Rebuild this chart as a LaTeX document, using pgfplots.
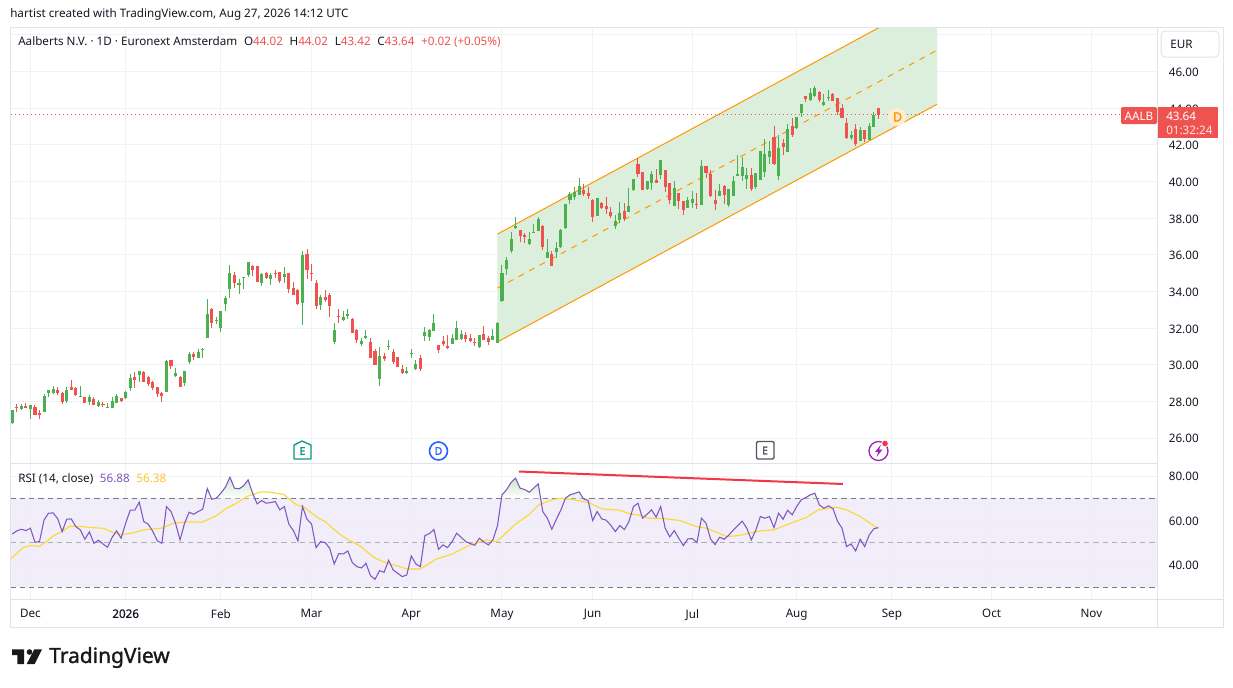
\documentclass[border=0pt]{standalone}
\usepackage{pgfplots}
\usepackage{pgfplotstable}
\usepackage{fontspec}
\setmainfont{Noto Sans}
\newfontfamily\nsbold[FakeBold=1.3]{Noto Sans}
\newfontfamily\nsmed[FakeBold=0.5]{Noto Sans}
\pgfplotsset{compat=1.18}
\definecolor{up}{HTML}{4CAF50}
\definecolor{dn}{HTML}{EF5350}
\definecolor{gridc}{HTML}{F1F2F4}
\definecolor{framec}{HTML}{E0E3EB}
\definecolor{chan}{HTML}{DCEFDC}
\definecolor{orng}{HTML}{FF9800}
\definecolor{rsic}{HTML}{7E57C2}
\definecolor{mac}{HTML}{FDD835}
\definecolor{band}{HTML}{F0ECF8}
\definecolor{txt}{HTML}{131722}
\definecolor{lev}{HTML}{787B86}
\definecolor{divl}{HTML}{F23645}
\definecolor{ecol}{HTML}{089981}
\definecolor{dcol}{HTML}{2962FF}
\definecolor{pcol}{HTML}{9C27B0}
\pgfplotstableread{
i top bot high low
0 27.53 26.80 27.53 26.77
2 27.75 27.58 27.86 27.53
4 27.80 27.58 27.80 27.04
7 28.30 27.42 28.40 27.42
8 28.62 28.46 28.62 28.24
9 28.68 28.46 28.84 28.40
12 28.62 28.02 28.79 27.91
15 28.30 28.24 28.84 28.24
17 28.24 27.97 28.35 27.80
19 27.97 27.75 28.08 27.69
21 27.69 27.64 27.91 27.64
22 28.02 27.64 28.24 27.64
23 28.30 27.91 28.40 27.91
25 28.51 28.19 28.57 28.13
26 29.28 28.73 29.50 28.57
28 29.66 29.44 29.66 29.06
34 30.20 28.51 30.26 28.51
36 29.55 29.39 29.82 29.33
38 29.66 29.00 29.66 28.84
39 30.59 30.15 30.69 30.04
41 30.69 30.37 30.86 30.37
42 30.86 30.80 30.91 30.37
43 32.77 31.46 33.59 31.46
45 32.44 32.39 32.60 32.22
46 32.93 32.00 32.93 31.79
47 33.64 33.31 33.75 32.93
48 35.00 34.13 35.44 33.64
50 34.46 34.35 34.68 33.86
51 34.79 34.73 34.79 34.13
52 35.60 34.90 35.60 34.79
55 34.95 34.46 35.00 34.30
57 34.90 34.68 35.00 34.35
60 34.95 34.79 35.33 34.46
64 35.99 33.37 36.20 32.17
68 33.70 33.26 33.80 32.99
71 31.90 31.24 32.28 31.13
73 32.60 32.44 32.93 32.39
74 32.77 32.66 33.04 32.49
77 31.30 31.13 31.46 31.02
78 31.57 31.46 31.90 31.40
81 30.48 29.22 30.97 28.84
83 31.02 30.97 31.35 30.80
87 29.66 29.55 29.88 29.50
88 30.64 30.59 30.86 30.37
89 30.04 29.77 30.26 29.71
91 31.79 31.57 32.06 31.30
92 31.90 31.51 31.95 31.30
93 32.28 31.84 32.77 31.84
97 31.46 31.13 31.68 31.13
98 32.00 31.35 32.39 31.35
99 31.68 31.40 31.90 31.35
103 31.62 30.97 31.62 30.91
106 31.57 31.35 31.95 31.35
107 32.28 31.19 32.33 31.19
108 35.00 33.47 35.44 33.42
109 35.71 35.22 35.87 34.89
110 36.86 36.20 37.24 36.09
111 37.56 37.46 38.06 37.40
114 36.86 36.58 37.24 36.53
115 37.24 37.18 37.67 37.18
116 37.95 37.29 38.06 37.29
118 36.15 35.82 36.86 35.82
120 36.36 36.15 36.69 35.82
121 37.35 36.42 37.40 36.36
122 38.76 37.46 38.76 37.40
123 39.31 38.98 39.42 38.76
124 39.42 39.15 39.69 38.98
125 39.75 39.26 40.18 39.26
129 39.09 38.11 39.09 38.11
133 37.84 37.56 38.16 37.40
134 38.27 37.89 38.87 37.73
136 38.66 38.33 39.64 38.33
137 40.13 39.53 40.13 39.47
140 40.02 39.58 40.02 39.53
141 40.40 39.91 40.56 39.53
143 41.16 40.35 41.16 40.13
146 39.64 38.66 40.02 38.66
149 38.98 38.55 39.15 38.55
150 39.04 38.83 39.48 38.55
152 40.84 38.72 41.17 38.72
156 39.48 39.21 39.86 39.21
158 39.59 38.72 39.59 38.61
159 40.03 39.21 40.30 39.21
160 40.41 40.30 41.44 40.30
161 40.79 40.30 41.33 40.03
162 40.35 40.13 40.73 39.59
164 40.46 39.70 40.46 39.59
165 41.66 40.08 41.66 40.08
166 41.50 40.52 42.32 40.24
167 41.66 41.33 42.21 40.95
169 41.83 40.30 42.53 40.08
171 42.86 41.61 43.13 41.61
173 43.52 42.92 43.52 42.86
174 44.23 43.73 44.23 43.52
176 44.83 44.44 45.10 44.39
177 45.10 44.66 45.21 44.61
179 44.33 44.17 44.77 44.12
180 44.61 44.55 44.99 44.39
185 42.53 42.37 42.75 42.26
187 42.81 42.21 42.97 42.21
189 43.03 42.26 43.19 42.26
190 43.63 42.97 43.79 42.97
}\upcandles
\pgfplotstableread{
i top bot high low
1 27.69 27.64 27.86 27.44
3 27.75 27.64 27.93 27.64
5 27.69 27.26 27.80 27.26
6 27.37 27.26 27.53 27.04
10 28.62 28.46 28.79 28.35
11 28.46 27.97 28.51 27.86
13 28.79 28.62 29.17 28.62
14 28.73 28.35 28.79 28.30
16 28.24 27.91 28.24 27.91
18 28.13 27.80 28.24 27.80
20 27.86 27.80 27.97 27.69
24 28.19 28.02 28.19 27.97
27 29.33 29.17 29.60 28.73
29 29.60 29.06 29.66 29.06
30 29.33 28.95 29.39 28.84
31 29.06 28.73 29.11 28.62
32 28.79 28.40 28.79 28.24
33 28.46 28.30 28.51 27.97
35 30.26 29.93 30.26 29.77
37 29.33 28.79 29.39 28.79
40 30.59 30.42 30.69 30.26
44 33.04 32.28 33.09 32.00
49 34.90 34.46 35.06 34.19
53 35.39 35.17 35.44 34.84
54 35.39 34.51 35.39 34.51
56 35.00 34.73 35.06 34.68
58 35.00 34.95 35.17 34.73
59 35.06 34.57 35.06 34.46
61 35.00 34.13 35.00 33.91
62 34.19 33.80 34.51 33.80
63 34.08 33.31 34.13 33.26
65 36.04 35.17 36.31 34.68
66 35.00 34.95 35.50 34.57
67 34.46 33.20 34.62 33.04
69 33.70 33.53 34.08 33.42
70 33.80 33.20 33.91 32.60
72 32.66 32.60 33.04 32.28
75 32.49 31.73 32.55 31.73
76 31.90 31.35 31.95 31.19
79 31.24 30.37 31.46 30.37
80 30.75 29.99 30.86 29.99
82 30.48 30.31 30.64 30.20
84 30.69 30.15 30.86 30.04
85 30.42 29.88 30.42 29.88
86 29.77 29.55 29.99 29.50
90 30.37 29.77 30.53 29.66
94 31.08 30.80 31.08 30.64
95 31.30 31.13 31.57 31.02
96 31.02 30.91 31.62 30.86
100 31.62 31.40 31.79 31.24
101 31.46 31.30 31.68 31.24
102 31.24 31.19 31.46 31.02
104 31.68 31.35 32.11 31.35
105 31.46 31.24 31.57 31.08
112 37.35 37.02 37.35 36.69
113 37.07 36.96 37.18 36.64
117 37.56 36.42 37.62 36.26
119 36.04 35.38 36.20 35.38
126 39.53 39.31 39.86 39.20
127 39.36 39.20 39.69 39.04
128 38.98 38.06 39.04 37.78
130 38.82 38.55 38.87 38.49
131 38.66 38.49 39.15 38.22
132 38.33 38.11 38.60 38.00
135 38.38 37.95 38.82 37.84
138 40.95 40.40 41.27 40.24
139 40.51 39.53 40.51 39.53
142 40.07 39.91 40.67 39.91
144 40.62 39.69 40.62 39.42
145 39.91 38.98 39.91 38.76
147 39.36 38.93 39.36 38.49
148 38.93 38.44 38.93 38.16
151 38.77 38.72 39.37 38.50
153 40.84 40.46 40.84 40.19
154 40.41 39.21 40.63 39.15
155 38.99 38.77 39.53 38.44
157 39.75 39.26 39.81 38.77
163 40.35 39.59 40.73 39.48
168 42.43 40.95 43.03 40.90
170 42.10 41.88 42.32 41.44
172 43.03 42.53 43.46 42.43
175 44.66 44.50 44.66 44.33
178 44.88 44.44 44.93 44.33
181 44.77 44.39 44.83 44.39
182 44.55 43.79 44.55 43.63
183 44.01 43.46 44.23 43.46
184 43.19 42.37 43.46 42.32
186 42.86 42.04 43.13 41.93
188 42.81 42.32 42.81 42.15
191 44.02 43.64 44.02 43.42
}\dncandles
\pgfplotstableread{
i r
0 54.0
1 55.35
2 56.1
3 55.5
4 56.55
5 50.25
6 50.55
7 60.3
8 63.3
9 63.45
10 60.9
11 55.05
12 60.6
13 60.75
14 57.3
15 55.8
16 51.6
17 54.9
18 49.8
19 51.15
20 49.5
21 48
22 52.35
23 55.35
24 52.05
25 58.8
26 64.65
27 64.65
28 68.25
29 59.55
30 58.35
31 55.05
32 50.85
33 49.8
34 66.3
35 64.05
36 58.8
37 51.3
38 58.8
39 63.75
40 62.85
41 64.05
42 65.1
43 74.4
44 69.6
45 70.05
46 72.3
47 75
48 79.5
49 74.55
50 74.25
51 75.6
52 78.3
53 72.3
54 67.5
55 69
56 67.8
57 68.1
58 68.55
59 64.8
60 66.3
61 58.35
62 55.5
63 50.85
64 66.3
65 60.6
66 58.5
67 47.85
68 50.55
69 50.1
70 47.55
71 40.5
72 45.15
73 45
74 46.35
75 41.1
76 39.3
77 38.7
78 40.8
79 35.25
80 33.6
81 37.5
82 36.75
83 42.15
84 37.8
85 36.3
86 34.8
87 35.55
88 44.1
89 40.5
90 39.3
91 53.25
92 54.15
93 55.95
94 47.1
95 49.05
96 47.85
97 50.55
98 54.3
99 52.5
100 50.55
101 49.65
102 48.9
103 52.05
104 50.4
105 49.05
106 51.3
107 57.6
108 71.55
109 73.8
110 77.1
111 79.05
112 74.55
113 73.95
114 72.75
115 74.55
116 76.5
117 64.05
118 61.05
119 56.1
120 60.6
121 64.8
122 70.05
123 71.55
124 72.15
125 72.9
126 69.75
127 69
128 60
129 64.05
130 60.75
131 60.15
132 57.9
133 55.05
134 57.75
135 55.95
136 59.55
137 66.3
138 67.8
139 61.05
140 62.85
141 64.8
142 61.5
143 66.3
144 56.55
145 52.65
146 55.5
147 52.05
148 48.75
149 51.75
150 51.9
151 50.1
152 61.05
153 58.8
154 51.75
155 49.2
156 52.5
157 51.6
158 53.4
159 55.65
160 57.75
161 59.7
162 56.55
163 51.3
164 55.8
165 61.8
166 61.05
167 61.8
168 56.85
169 63.3
170 60.6
171 64.65
172 62.55
173 66.3
174 69.3
175 70.35
176 71.55
177 72.3
178 67.05
179 65.55
180 66.6
181 65.4
182 59.7
183 56.55
184 48.3
185 49.5
186 46.35
187 51.6
188 48.3
189 53.55
190 56.25
191 56.88
}\rsitable
\pgfplotstableread{
i m
-0.4 42.6
1 45.3
2.4 47.85
3.9 48.75
6 48.45
7.6 50.55
9 53.1
10.9 55.05
12.7 57.45
14.9 57.45
17.1 56.85
20.1 56.55
22.3 54.6
24.1 53.7
26.7 54.45
28.9 55.8
32.9 56.55
35.5 58.8
38.5 59.4
41.8 59.25
44.7 61.8
47.3 65.55
49.5 67.8
51.7 70.8
54.6 72.75
56.1 72.9
59.8 71.85
61.3 69.3
62.7 67.05
64.2 66.3
67.2 61.5
69 59.55
71.9 54.3
74.1 51.3
76.7 48.6
79.7 43.5
82.6 40.8
84.8 39.75
87 38.25
90 38.25
93.6 42.75
96.9 44.85
101 49.05
104.7 51.3
106.9 50.55
111 58.5
113.9 62.55
116.1 67.05
119.4 69.6
121.3 70.05
123.9 69.3
127.1 68.1
130 65.25
134 64.65
136.2 63
138.1 62.55
140.3 61.05
143.6 60.9
147.3 60
150.9 57.3
153.1 56.55
157.6 52.8
160.1 53.25
164.9 55.35
167.9 55.8
170.8 58.05
175.2 61.5
177.8 64.8
181.8 66
184 64.8
187 61.8
191 56.38
}\matable
\tikzset{lbl/.style={font=\fontsize{8.75pt}{11pt}\selectfont,inner sep=0pt,text=txt}}
\begin{document}
\begin{tikzpicture}[x=0.75pt,y=-0.75pt]
\path[use as bounding box,fill=white] (0,0) rectangle (1233,687);
\begin{axis}[at={(7.875pt,-347.625pt)},anchor=south west,scale only axis,
  width=860.25pt,height=327.375pt,
  xmin=-0.397,xmax=252.58,ymin=24.61,ymax=48.43,
  ytick={26,28,...,48},yticklabels={26.00,28.00,30.00,32.00,34.00,36.00,38.00,40.00,42.00,44.00,46.00,},
  yticklabel pos=right,
  /pgf/number format/assume math mode=true,
  xtick={4,25,46,66,88,108,128,150,173,194,216,238},xticklabels={},
  ymajorgrids,xmajorgrids,grid style={gridc,line width=0.75pt},
  major tick length=0pt,axis line style={framec,line width=0.75pt},
  tick label style={font=\fontsize{8.75pt}{11pt}\selectfont,text=txt},
  yticklabel style={anchor=west,xshift=5pt,yshift=-0.6pt},
  axis on top=false]
\addplot[fill=chan,draw=none,forget plot] coordinates {(107,31.24) (204,44.22) (204,50.12) (107,37.13)};
\addplot[orng,line width=0.75pt,forget plot] coordinates {(107,31.24) (204,44.22)};
\addplot[orng,line width=0.75pt,forget plot] coordinates {(107,37.13) (204,50.12)};
\addplot[orng,line width=0.75pt,dash pattern=on 4.5pt off 4.5pt,forget plot] coordinates {(107,34.18) (204,47.17)};
\addplot[dn,line width=0.75pt,dash pattern=on 0.75pt off 2.25pt,forget plot] coordinates {(-0.397,43.64) (252.58,43.64)};
\addplot[draw=none,forget plot,error bars/.cd,y dir=plus,y explicit,error mark=none,error bar style={draw=up,line width=0.75pt}] table[x=i,y=low,y error expr=\thisrow{high}-\thisrow{low}] {\upcandles};
\addplot[draw=none,forget plot,error bars/.cd,y dir=plus,y explicit,error mark=none,error bar style={draw=dn,line width=0.75pt}] table[x=i,y=low,y error expr=\thisrow{high}-\thisrow{low}] {\dncandles};
\addplot[draw=none,forget plot,error bars/.cd,y dir=plus,y explicit,error mark=none,error bar style={draw=up,line width=2.3pt}] table[x=i,y=bot,y error expr=\thisrow{top}-\thisrow{bot}] {\upcandles};
\addplot[draw=none,forget plot,error bars/.cd,y dir=plus,y explicit,error mark=none,error bar style={draw=dn,line width=2.3pt}] table[x=i,y=bot,y error expr=\thisrow{top}-\thisrow{bot}] {\dncandles};
\end{axis}
\begin{axis}[at={(7.875pt,-449.625pt)},anchor=south west,scale only axis,
  width=860.25pt,height=102pt,
  xmin=-0.397,xmax=252.58,ymin=24.52,ymax=85.64,
  ytick={40,60,80},yticklabels={40.00,60.00,80.00},
  yticklabel pos=right,
  xtick={4,25,46,66,88,108,128,150,173,194,216,238},
  xticklabels={Dec,{\nsmed 2026},Feb,Mar,Apr,May,Jun,Jul,Aug,Sep,Oct,Nov},
  ymajorgrids,xmajorgrids,grid style={gridc,line width=0.75pt},
  major tick length=0pt,axis line style={framec,line width=0.75pt},
  tick label style={font=\fontsize{8.75pt}{11pt}\selectfont,text=txt},
  yticklabel style={anchor=west,xshift=5pt,yshift=-0.3pt},
  xticklabel style={yshift=-3.9pt},
  axis on top=false]
\addplot[fill=band,fill opacity=0.85,draw=none,forget plot] coordinates {(-0.397,30) (252.58,30) (252.58,70) (-0.397,70)};
\addplot[lev,line width=0.75pt,dash pattern=on 4pt off 3pt,forget plot] coordinates {(-0.397,70) (252.58,70)};
\addplot[lev!60,line width=0.75pt,dash pattern=on 4pt off 3pt,forget plot] coordinates {(-0.397,50) (252.58,50)};
\addplot[lev,line width=0.75pt,dash pattern=on 4pt off 3pt,forget plot] coordinates {(-0.397,30) (252.58,30)};
\addplot[draw=none,top color=up!30,bottom color=white,forget plot] coordinates {(42.5,70) (43,74.4) (43.9,70) (45,70.05) (46,72.3) (47,75) (48,79.5) (49,74.55) (50,74.25) (51,75.6) (52,78.3) (53,72.3) (53.5,70)};
\addplot[draw=none,top color=up!30,bottom color=white,forget plot] coordinates {(107.9,70) (108,71.55) (109,73.8) (110,77.1) (111,79.05) (112,74.55) (113,73.95) (114,72.75) (115,74.55) (116,76.5) (116.5,70)};
\addplot[draw=none,fill=up!12,forget plot] coordinates {(121.9,70) (123,71.55) (124,72.15) (125,72.9) (125.9,70)};
\addplot[draw=none,fill=up!12,forget plot] coordinates {(174.8,70) (175,70.35) (176,71.55) (177,72.3) (177.5,70)};
\addplot[mac,line width=0.85pt,forget plot] table[x=i,y=m] {\matable};
\addplot[rsic,line width=0.8pt,forget plot] table[x=i,y=r] {\rsitable};
\addplot[divl,line width=1.5pt,forget plot] coordinates {(111.75,82.04) (183.2,76.43)};
\end{axis}
% frame
\draw[framec,line width=0.75pt] (10.5,27.5) rectangle (1223.5,627.5);
\draw[framec,line width=0.75pt] (1157.5,27.5) -- (1157.5,627.5);
\draw[framec,line width=0.75pt] (10.5,599.5) -- (1223.5,599.5);
% header texts
\node[lbl,anchor=west] at (10,14) {hartist created with TradingView.com, Aug 27, 2026 14:12 UTC};
\node[lbl,anchor=west] at (18,42) {Aalberts N.V. · 1D · Euronext Amsterdam\hspace{5pt}O\textcolor{dn}{44.02}\hspace{5pt}H\textcolor{dn}{44.02}\hspace{5pt}L\textcolor{dn}{43.42}\hspace{5pt}C\textcolor{dn}{43.64}\hspace{5pt}\textcolor{dn}{+0.02 (+0.05\%)}};
\node[lbl,anchor=west] at (18,479) {RSI (14, close)\hspace{5pt}\textcolor{rsic}{56.88}\hspace{5pt}\textcolor{mac!80!orange}{56.38}};
% EUR button
\draw[framec,fill=white,line width=0.75pt,rounded corners=3pt] (1161,31) rectangle (1219,57);
\node[lbl,anchor=west] at (1170,44) {EUR};
% last price labels
\fill[dn,rounded corners=1pt] (1121,107) rectangle (1157,124);
\node[lbl,anchor=center,text=white] at (1139,116) {AALB};
\fill[dn] (1158,107) rectangle (1218,137.5);
\node[lbl,anchor=west,text=white] at (1166,116) {43.64};
\node[lbl,anchor=west,text=white,opacity=0.85] at (1166,130) {01:32:24};
% dividend bubble
\fill[orng!18] (897,117) circle (9);
\node[font=\fontsize{9.5pt}{11pt}\selectfont,text=orng,inner sep=0pt] at (897.5,117) {{\nsbold D}};
% event icons
\draw[ecol,line width=1pt,fill=white,line join=round] (294,445) -- (302,441) -- (311,445) -- (311,459) -- (294,459) -- cycle;
\node[font=\fontsize{8pt}{10pt}\selectfont,text=ecol,inner sep=0pt] at (302.5,451) {{\nsbold E}};
\draw[dcol,line width=1.2pt,fill=white] (438.5,451) circle (9);
\node[font=\fontsize{8pt}{10pt}\selectfont,text=dcol,inner sep=0pt] at (438.5,451) {{\nsbold D}};
\draw[lev!70!black,line width=1pt,fill=white,rounded corners=1pt] (756.5,441.5) rectangle (774,459);
\node[font=\fontsize{8pt}{10pt}\selectfont,text=lev!70!black,inner sep=0pt] at (765,450.5) {{\nsbold E}};
\draw[pcol,line width=1pt,fill=white] (878.5,451) circle (9.5);
\fill[pcol] (881,444.5) -- (875,452) -- (878.3,452) -- (876.5,457) -- (882.5,449.5) -- (879.2,449.5) -- cycle;
\fill[white] (885,443.5) circle (3.8);
\fill[divl] (885,443.5) circle (2.8);
% logo
\fill[black!90] (12,649.3) -- (24,649.3) -- (24,664) -- (17.3,664) -- (17.3,655) -- (12,655) -- cycle;
\fill[black!90] (29.5,652) circle (2.8);
\fill[black!90] (34.3,649.3) -- (42,649.3) -- (34.7,664) -- (26.7,664) -- cycle;
\node[font=\fontsize{15.7pt}{18pt}\selectfont,text=black!90,anchor=west,inner sep=0pt] at (49,657.5) {{\nsbold TradingView}};
\end{tikzpicture}
\end{document}
